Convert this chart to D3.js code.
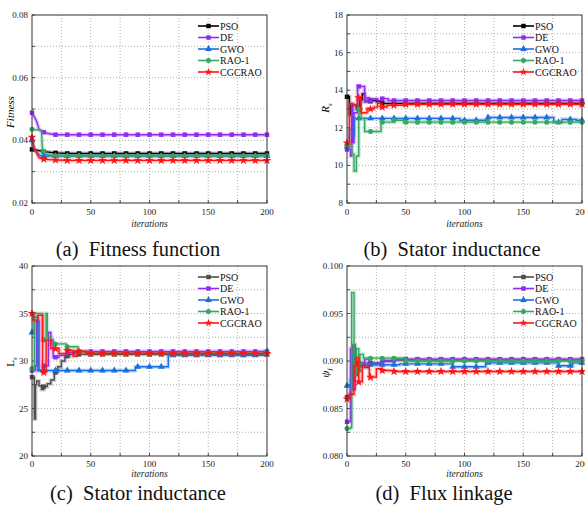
<!DOCTYPE html>
<html>
<head>
<meta charset="utf-8">
<script src="https://cdn.jsdelivr.net/npm/d3@7"></script>
<style>
body { margin: 0; background: #fff; }
svg text { font-family: "Liberation Serif", "Times New Roman", serif; }
</style>
</head>
<body>
<svg width="585" height="508"></svg>
<script>
var algos = ["PSO", "DE", "GWO", "RAO-1", "CGCRAO"];
var xTicks = [0, 50, 100, 150, 200];
var captions = ["(a)  Fitness function", "(b)  Stator inductance", "(c)  Stator inductance", "(d)  Flux linkage"];

// (a) fitness, [iteration, value]
var fitPSO = [[0,0.0371],[5,0.0368],[10,0.0364],[20,0.0360],[30,0.0358],[200,0.0358]];
var fitDE  = [[0,0.0488],[2,0.0475],[4,0.0460],[6,0.0435],[9,0.0426],[15,0.0421],[20,0.0418],[200,0.0418]];
var fitGWO = [[0,0.0400],[2,0.0370],[5,0.0357],[8,0.0350],[200,0.0350]];
var fitRAO = [[0,0.0435],[8,0.0432],[9,0.0365],[12,0.0355],[20,0.0351],[200,0.0351]];
var fitCG  = [[0,0.0410],[2,0.0372],[4,0.0360],[6,0.0345],[10,0.0340],[20,0.0337],[30,0.0336],[200,0.0336]];

// (b) Rs
var rsPSO = [[0,13.65],[2,12.7],[3,13.2],[8,13.0],[11,13.5],[13,13.8],[15,13.4],[20,13.45],[25,13.4],[30,13.3],[200,13.3]];
var rsDE  = [[0,10.85],[3,10.5],[4,13.2],[5,11.2],[6,12.8],[9,14.2],[15,13.4],[17,13.6],[19,13.4],[21,13.55],[26,13.45],[30,13.55],[35,13.45],[200,13.45]];
var rsGWO = [[0,11.0],[2,11.9],[4,11.6],[6,12.5],[96,12.4],[120,12.55],[176,12.3],[183,12.45],[195,12.4],[200,12.4]];
var rsRAO = [[0,11.1],[4,10.6],[6,9.7],[8,10.5],[10,13.0],[12,12.5],[15,11.8],[29,12.3],[40,12.4],[48,12.3],[200,12.3]];
var rsCG  = [[0,11.2],[2,13.3],[5,13.2],[9,13.6],[12,12.8],[17,13.0],[23,13.1],[26,13.3],[29,13.1],[34,13.2],[50,13.25],[200,13.25]];

// (c) Ls
var lsPSO = [[0,28.3],[2,23.9],[3,27.5],[4,27.9],[6,27.4],[8,27.0],[10,27.3],[13,27.6],[16,28.0],[19,28.8],[22,29.4],[25,30.0],[28,30.5],[32,30.7],[36,30.9],[40,30.7],[200,30.7]];
var lsDE  = [[0,29.0],[3,29.5],[4,34.2],[6,29.0],[10,29.5],[14,33.0],[16,32.2],[18,30.4],[23,30.6],[30,30.9],[35,31.0],[200,31.0]];
var lsGWO = [[0,33.0],[2,34.6],[5,29.0],[88,29.4],[116,30.6],[198,31.0],[200,31.0]];
var lsRAO = [[0,29.2],[2,35.0],[9,32.2],[12,35.0],[13,32.5],[16,31.8],[29,31.5],[39,31.0],[46,30.8],[200,30.8]];
var lsCG  = [[0,35.0],[1,34.3],[5,34.8],[9,28.8],[12,32.2],[16,31.3],[23,30.8],[30,31.1],[35,30.5],[38,31.0],[46,30.8],[200,30.8]];

// (d) flux linkage
var pfPSO = [[0,0.0862],[3,0.0870],[5,0.0917],[7,0.0885],[9,0.0898],[15,0.0893],[18,0.0898],[30,0.0900],[40,0.0901],[200,0.0901]];
var pfDE  = [[0,0.0836],[3,0.0913],[5,0.0870],[7,0.0905],[8,0.0895],[15,0.0902],[19,0.0897],[30,0.0900],[40,0.0902],[200,0.0902]];
var pfGWO = [[0,0.0874],[3,0.0880],[5,0.0906],[7,0.0895],[13,0.0897],[20,0.0896],[45,0.0897],[90,0.0894],[118,0.0898],[180,0.0895],[192,0.0898],[200,0.0898]];
var pfRAO = [[0,0.0829],[3,0.0830],[4,0.0972],[6,0.0885],[8,0.0913],[10,0.0890],[11,0.0907],[14,0.0903],[50,0.0900],[200,0.0900]];
var pfCG  = [[0,0.0860],[2,0.0865],[6,0.0895],[8,0.0903],[10,0.0878],[13,0.0895],[19,0.0883],[25,0.0892],[30,0.0890],[40,0.0889],[200,0.0889]];

var colorsTop = ["#000000", "#8f2cf0", "#1a6fdf", "#35a864", "#ff1414"];
var colorsBot = ["#4d4d4d", "#8f2cf0", "#1a6fdf", "#35a864", "#ff1414"];
var symbols = [d3.symbolSquare, d3.symbolSquare, d3.symbolTriangle, d3.symbolCircle, d3.symbolStar];

var panels = [
  { left: 32,  top: 15,  right: 267, bottom: 203, dom: [0.02, 0.08], ticks: [0.02,0.04,0.06,0.08], step: 0.01, fmt: ".2f",
    series: [fitPSO, fitDE, fitGWO, fitRAO, fitCG], colors: colorsTop, curve: d3.curveLinear, ylab: ["Fitness", ""], row: 0, ly: 112, cx: 138 },
  { left: 347, top: 15,  right: 582, bottom: 203, dom: [8, 18], ticks: [8,10,12,14,16,18], step: 1, fmt: "d",
    series: [rsPSO, rsDE, rsGWO, rsRAO, rsCG], colors: colorsTop, curve: d3.curveStepAfter, ylab: ["R", "s"], row: 0, ly: 108, cx: 452 },
  { left: 32,  top: 266, right: 267, bottom: 456, dom: [20, 40], ticks: [20,25,30,35,40], step: 2.5, fmt: "d",
    series: [lsPSO, lsDE, lsGWO, lsRAO, lsCG], colors: colorsBot, curve: d3.curveStepAfter, ylab: ["L", "s"], row: 1, ly: 362, cx: 138 },
  { left: 347, top: 266, right: 582, bottom: 456, dom: [0.08, 0.1], ticks: [0.08,0.085,0.09,0.095,0.1], step: 0.0025, fmt: ".3f",
    series: [pfPSO, pfDE, pfGWO, pfRAO, pfCG], colors: colorsBot, curve: d3.curveStepAfter, ylab: ["\u03c8", "f"], row: 1, ly: 373, cx: 444 }
];

// offsets below the plot for tick labels, axis title, caption
var rowText = [[12, 24, 53], [10.5, 21, 44]];

var svg = d3.select("svg");

function valueAt(arr, it) {
  var v = arr[0][1];
  arr.forEach(function (p) { if (p[0] <= it) v = p[1]; });
  return v;
}

panels.forEach(function (p, pi) {
  var x = d3.scaleLinear().domain([0, 200]).range([p.left, p.right]);
  var y = d3.scaleLinear().domain(p.dom).range([p.bottom, p.top]);
  var g = svg.append("g");

  // grid
  var xg = d3.range(25, 200, 25);
  var yg = d3.range(p.dom[0] + p.step, p.dom[1] - p.step / 2, p.step);
  g.selectAll(".gx").data(xg).enter().append("line")
    .attr("x1", d => x(d)).attr("x2", d => x(d)).attr("y1", p.top).attr("y2", p.bottom)
    .attr("stroke", "#9a9a9a").attr("stroke-width", 0.8).attr("stroke-dasharray", "1,2");
  g.selectAll(".gy").data(yg).enter().append("line")
    .attr("x1", p.left).attr("x2", p.right).attr("y1", d => y(d)).attr("y2", d => y(d))
    .attr("stroke", "#9a9a9a").attr("stroke-width", 0.8).attr("stroke-dasharray", "1,2");

  // inner ticks
  g.selectAll(".tx").data(d3.range(0, 201, 25)).enter().append("line")
    .attr("x1", d => x(d)).attr("x2", d => x(d)).attr("y1", p.bottom).attr("y2", p.bottom - 3)
    .attr("stroke", "#222").attr("stroke-width", 0.8);
  g.selectAll(".ty").data(d3.range(p.dom[0], p.dom[1] + p.step / 2, p.step)).enter().append("line")
    .attr("x1", p.left).attr("x2", p.left + 3).attr("y1", d => y(d)).attr("y2", d => y(d))
    .attr("stroke", "#222").attr("stroke-width", 0.8);

  // tick labels
  var off = rowText[p.row];
  g.selectAll(".lx").data(xTicks).enter().append("text")
    .attr("x", d => x(d)).attr("y", p.bottom + off[0])
    .attr("text-anchor", "middle").attr("font-size", 9).attr("fill", "#222")
    .text(d => d);
  g.selectAll(".ly").data(p.ticks).enter().append("text")
    .attr("x", p.left - 4).attr("y", d => y(d) + 3)
    .attr("text-anchor", "end").attr("font-size", 9).attr("fill", "#222")
    .text(d => d3.format(p.fmt)(d));

  // axis titles
  g.append("text").attr("x", (p.left + p.right) / 2).attr("y", p.bottom + off[1])
    .attr("text-anchor", "middle").attr("font-size", 9.5).attr("font-style", "italic").attr("fill", "#222")
    .text("iterations");
  var yl = g.append("text")
    .attr("transform", "translate(" + (p.left - 18) + "," + p.ly + ") rotate(-90)")
    .attr("text-anchor", "middle").attr("font-size", 11).attr("font-style", pi == 2 ? "normal" : "italic");
  yl.append("tspan").text(p.ylab[0]);
  if (p.ylab[1]) yl.append("tspan").attr("font-size", 7).attr("dy", 3).attr("font-style", "italic").text(p.ylab[1]);

  // caption
  svg.append("text").attr("x", p.cx).attr("y", p.bottom + off[2])
    .attr("text-anchor", "middle").attr("font-size", 20.5).attr("fill", "#111")
    .style("white-space", "pre")
    .text(captions[pi]);

  // series
  var line = d3.line().x(d => x(d[0])).y(d => y(d[1])).curve(p.curve);
  var marks = d3.range(0, 201, 10);
  p.series.forEach(function (s, si) {
    var c = p.colors[si];
    g.append("path").attr("d", line(s)).attr("fill", "none")
      .attr("stroke", c).attr("stroke-opacity", 0.25).attr("stroke-width", 4);
    g.append("path").attr("d", line(s)).attr("fill", "none")
      .attr("stroke", c).attr("stroke-width", 1.4);
    g.selectAll(".m" + si).data(marks).enter().append("path")
      .attr("d", d3.symbol().type(symbols[si]).size(si == 4 ? 24 : 20))
      .attr("transform", d => "translate(" + x(d) + "," + y(valueAt(s, d)) + ")")
      .attr("fill", c);
  });

  // legend
  algos.forEach(function (a, ai) {
    var ly = p.top + 11 + ai * 11.5;
    var c = p.colors[ai];
    g.append("line").attr("x1", p.left + 166).attr("x2", p.left + 187).attr("y1", ly).attr("y2", ly)
      .attr("stroke", c).attr("stroke-width", 1.6);
    g.append("path").attr("d", d3.symbol().type(symbols[ai]).size(20))
      .attr("transform", "translate(" + (p.left + 176.5) + "," + ly + ")").attr("fill", c);
    g.append("text").attr("x", p.left + 188).attr("y", ly + 3.5)
      .attr("font-size", 10).attr("fill", "#111").text(a);
  });

  // frame
  g.append("rect").attr("x", p.left).attr("y", p.top)
    .attr("width", p.right - p.left).attr("height", p.bottom - p.top)
    .attr("fill", "none").attr("stroke", "#333").attr("stroke-width", 1);
});
</script>
</body>
</html>
